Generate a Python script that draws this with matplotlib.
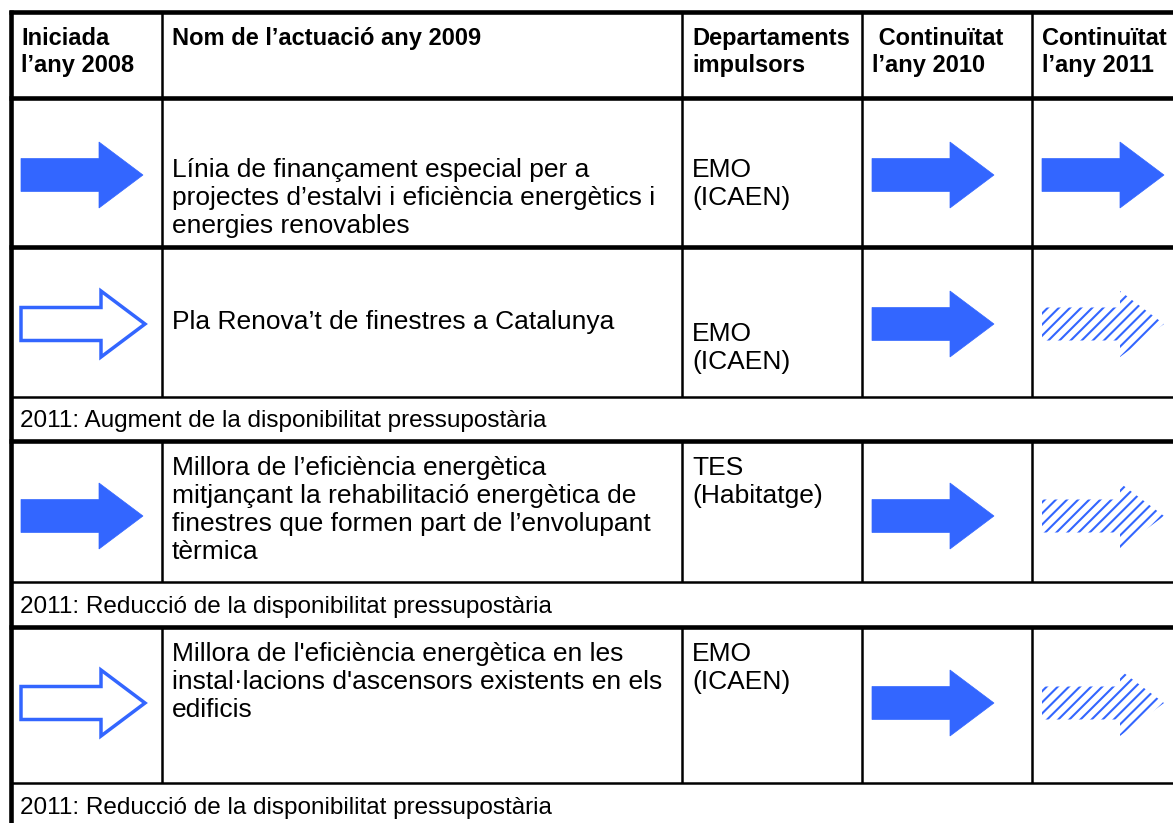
import matplotlib
matplotlib.use("Agg")
import matplotlib.pyplot as plt
from matplotlib.patches import Polygon

plt.rcParams['font.family'] = ['Liberation Sans', 'DejaVu Sans']
plt.rcParams['hatch.linewidth'] = 1.5

# Contingut de la taula
headers = ["Iniciada\nl’any 2008", "Nom de l’actuació any 2009",
           "Departaments\nimpulsors", " Continuïtat\nl’any 2010",
           "Continuïtat\nl’any 2011"]
names = [
    "Línia de finançament especial per a\nprojectes d’estalvi i eficiència energètics i\nenergies renovables",
    "Pla Renova’t de finestres a Catalunya",
    "Millora de l’eficiència energètica\nmitjançant la rehabilitació energètica de\nfinestres que formen part de l’envolupant\ntèrmica",
    "Millora de l'eficiència energètica en les\ninstal·lacions d'ascensors existents en els\nedificis",
]
depts = ["EMO\n(ICAEN)", "EMO\n(ICAEN)", "TES\n(Habitatge)", "EMO\n(ICAEN)"]
start_2008 = ["solid", "outline", "solid", "outline"]
cont_2010 = ["solid", "solid", "solid", "solid"]
cont_2011 = ["solid", "hatched", "hatched", "hatched"]
notes = [None,
         "2011: Augment de la disponibilitat pressupostària",
         "2011: Reducció de la disponibilitat pressupostària",
         "2011: Reducció de la disponibilitat pressupostària"]

# Geometria (pixels)
W, H = 1173, 823
col_x = [11, 162, 682, 862, 1032]
header_rows = (12, 98)
body_rows = [(98, 247), (247, 397), (441, 582), (627, 783)]
note_rows = [None, (397, 441), (582, 627), (783, 829)]
name_base = [177, 329, 475, 661]
dept_base = [177, 341, 475, 661]
arrow_y = [175, 324, 516, 703]
line_h = 28
blue = '#3366ff'
thick, thin = 3.3, 1.8

fig = plt.figure(figsize=(W / 100, H / 100), dpi=100)
ax = fig.add_axes([0, 0, 1, 1])
ax.set_xlim(0, W)
ax.set_ylim(H, 0)
ax.axis('off')


def lines_text(x, y0, s, step, **kw):
    for i, part in enumerate(s.split("\n")):
        ax.text(x, y0 + i * step, part, va='baseline', ha='left', **kw)


def arrow(x0, yc, kind):
    L, hl, sh, hh = 122, 44, 16.5, 33
    pts = [(x0, yc - sh), (x0 + L - hl, yc - sh), (x0 + L - hl, yc - hh),
           (x0 + L, yc), (x0 + L - hl, yc + hh), (x0 + L - hl, yc + sh),
           (x0, yc + sh)]
    if kind == "solid":
        p = Polygon(pts, closed=True, fc=blue, ec=blue, lw=0.5)
    elif kind == "outline":
        pts = [(px + (2 if px > x0 + L - hl - 1 else 0), py) for px, py in pts]
        p = Polygon(pts, closed=True, fc='white', ec=blue, lw=2.5, joinstyle='miter')
    else:
        p = Polygon(pts, closed=True, fc='white', ec=blue, lw=0, hatch='///')
    ax.add_patch(p)


# capçalera
top, hb = header_rows
for x, h in zip(col_x, headers):
    lines_text(x + 10, 45, h, 27, fontsize=17, fontweight='bold')

# files
for i, (r0, r1) in enumerate(body_rows):
    lines_text(col_x[1] + 10, name_base[i], names[i], line_h, fontsize=19)
    lines_text(col_x[2] + 10, dept_base[i], depts[i], line_h, fontsize=19)
    arrow(col_x[0] + 10, arrow_y[i], start_2008[i])
    arrow(col_x[3] + 10, arrow_y[i], cont_2010[i])
    arrow(col_x[4] + 10, arrow_y[i], cont_2011[i])
    for x in col_x[1:]:
        ax.plot([x, x], [r0, r1], color='black', lw=thin, solid_capstyle='butt')

for x in col_x[1:]:
    ax.plot([x, x], [top, hb], color='black', lw=thin, solid_capstyle='butt')

for i, nr in enumerate(note_rows):
    if nr is None:
        continue
    lines_text(col_x[0] + 9, (nr[0] + nr[1]) / 2 + 8, notes[i], line_h, fontsize=17.5)

# línies horitzontals
for y in [12, 98, 247, 441, 627]:
    ax.plot([col_x[0] - 2, W], [y, y], color='black', lw=thick, solid_capstyle='butt')
for y in [397, 582, 783]:
    ax.plot([col_x[0], W], [y, y], color='black', lw=thin, solid_capstyle='butt')
ax.plot([col_x[0], col_x[0]], [10, H], color='black', lw=thick, solid_capstyle='butt')

fig.savefig("out.png", dpi=100)
